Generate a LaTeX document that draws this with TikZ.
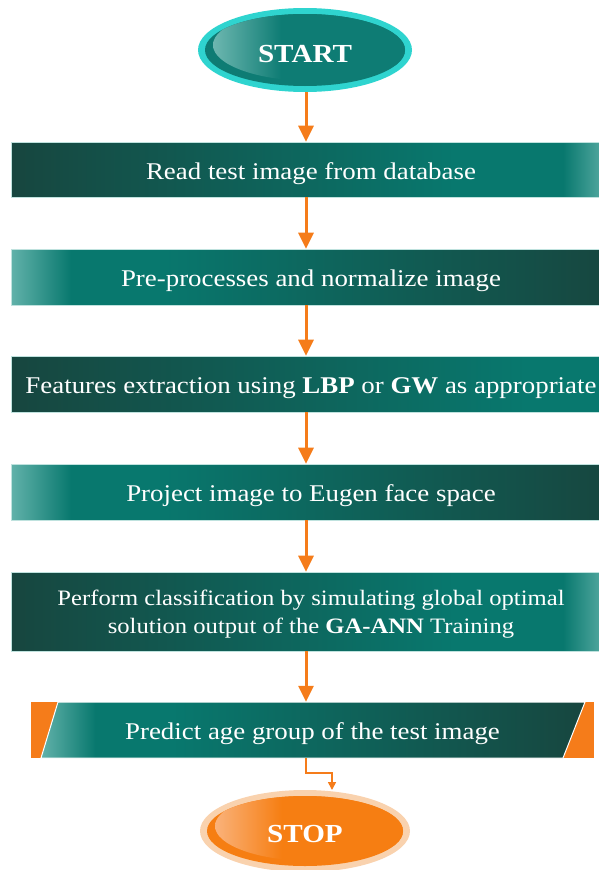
\documentclass[tikz,border=0pt]{standalone}
\usepackage{fontspec}
\setmainfont{Liberation Serif}[FakeStretch=1.12]
\usetikzlibrary{arrows.meta,shapes.geometric}
\definecolor{dk}{HTML}{17463F}
\definecolor{tl}{HTML}{08786E}
\definecolor{lt}{HTML}{62B2AA}
\definecolor{edge}{HTML}{BFE2DE}
\definecolor{org}{HTML}{F57C1A}
\definecolor{cyrim}{HTML}{2FD4CF}
\definecolor{stin}{HTML}{0E7C74}
\definecolor{sthl}{HTML}{6DB7B0}
\definecolor{pch}{HTML}{F9D2AE}
\definecolor{orin}{HTML}{F67E12}
\definecolor{orhl}{HTML}{FAB27A}
\pgfdeclarehorizontalshading{shA}{100bp}{color(0bp)=(dk); color(25bp)=(dk); color(62bp)=(tl); color(71bp)=(tl); color(75bp)=(lt); color(100bp)=(lt)}
\pgfdeclarehorizontalshading{shB}{100bp}{color(0bp)=(lt); color(25bp)=(lt); color(30bp)=(tl); color(37bp)=(tl); color(75bp)=(dk); color(100bp)=(dk)}
\pgfdeclarehorizontalshading{shC}{100bp}{color(0bp)=(dk); color(25bp)=(dk); color(68bp)=(tl); color(100bp)=(tl)}
\pgfdeclarehorizontalshading{shHL}{100bp}{color(0bp)=(sthl); color(25bp)=(sthl); color(42bp)=(stin); color(100bp)=(stin)}
\pgfdeclarehorizontalshading{shOHL}{100bp}{color(0bp)=(orhl); color(25bp)=(orhl); color(42bp)=(orin); color(100bp)=(orin)}
\tikzset{
  box/.style={rectangle, draw=edge, line width=0.6pt, text=white, font=\fontsize{24}{29}\selectfont, minimum width=600pt, inner sep=0pt, align=center, text height=19pt, text depth=0pt},
  arr/.style={draw=org, line width=3pt, -{Triangle[width=15pt,length=16pt]}},
  arrsm/.style={draw=org, line width=1.6pt, -{Triangle[width=8pt,length=8pt]}},
  term/.style={ellipse, text=white, font=\bfseries\fontsize{26}{30}\selectfont, inner sep=0pt, text depth=0pt}
}
\begin{document}
\begin{tikzpicture}[x=1pt,y=-1pt]
\useasboundingbox (0,0) rectangle (599,870);
% START
\fill[cyrim] (305,50) ellipse [x radius=107, y radius=42];
\fill[stin] (305,50) ellipse [x radius=100, y radius=36];
\begin{scope}
\clip (305,50) ellipse [x radius=100, y radius=36];
\shade[shading=shHL] (313,45) ellipse [x radius=100, y radius=36];
\end{scope}
\node[term, minimum width=214pt, minimum height=84pt, text height=25pt] (start) at (305,50) {START};
% boxes
\node[box, shading=shA, minimum height=55pt] (b1) at (311,169.5) {Read test image from database};
\node[box, shading=shB, minimum height=56pt] (b2) at (311,277) {Pre-processes and normalize image};
\node[box, shading=shC, minimum height=56pt] (b3) at (311,384) {Features extraction using \textbf{LBP} or \textbf{GW} as appropriate};
\node[box, shading=shB, minimum height=56pt] (b4) at (311,492) {Project image to Eugen face space};
\node[box, shading=shA, minimum height=79pt, font=\fontsize{22}{28}\selectfont, text height=43pt] (b5) at (311,611.5) {Perform classification by simulating global optimal\\solution output of the \textbf{GA-ANN} Training};
% box 6
\fill[org] (31,702) rectangle (594,758);
\shade[shading=shB, draw=white, line width=1pt] (58,702) -- (585,702) -- (563,758) -- (41,758) -- cycle;
\node[text=white, font=\fontsize{24}{29}\selectfont, minimum width=563pt, minimum height=56pt, inner sep=0pt, text height=18pt, text depth=0pt] (b6) at (312.5,730) {Predict age group of the test image};
% STOP
\fill[pch] (305,831) ellipse [x radius=105, y radius=41];
\fill[orin] (305,831) ellipse [x radius=98, y radius=35];
\begin{scope}
\clip (305,831) ellipse [x radius=98, y radius=35];
\shade[shading=shOHL] (313,826) ellipse [x radius=98, y radius=35];
\end{scope}
\node[term, minimum width=210pt, minimum height=82pt, text height=23pt] (stop) at (305,831) {STOP};
% connectors
\draw[arr] (start.south -| 306,0) -- (306,0 |- b1.north);
\draw[arr] (306,0 |- b1.south) -- (306,0 |- b2.north);
\draw[arr] (306,0 |- b2.south) -- (306,0 |- b3.north);
\draw[arr] (306,0 |- b3.south) -- (306,0 |- b4.north);
\draw[arr] (306,0 |- b4.south) -- (306,0 |- b5.north);
\draw[arr] (306,0 |- b5.south) -- (306,0 |- b6.north);
\coordinate (bend) at (306,773);
\coordinate (stopin) at (332,790);
\draw[arrsm] (306,0 |- b6.south) -- (bend) -| (stopin);
\end{tikzpicture}
\end{document}
